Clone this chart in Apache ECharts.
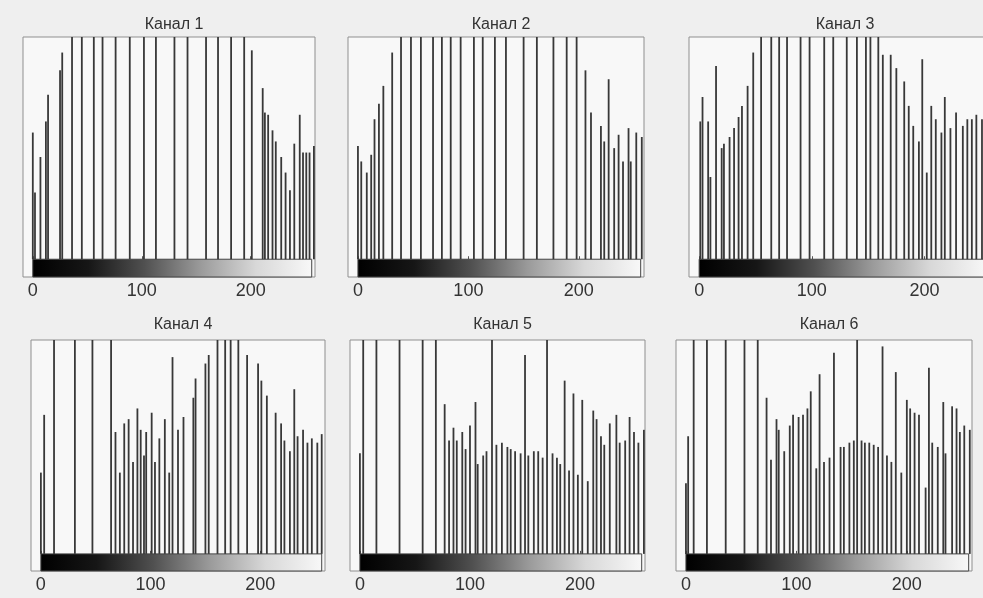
<!DOCTYPE html>
<html>
<head>
<meta charset="utf-8">
<script src="https://cdn.jsdelivr.net/npm/echarts@6/dist/echarts.min.js"></script>
<style>
  html, body { margin: 0; padding: 0; background: #efefef; }
  #chart { width: 983px; height: 598px; }
</style>
</head>
<body>
<div id="chart"></div>
<script>
// Histogram titles and axis tick labels
const channelTitles = ['Канал 1', 'Канал 2', 'Канал 3', 'Канал 4', 'Канал 5', 'Канал 6'];
const tickLabels = [0, 100, 200];
// Grey scale shown by the colour bar under each histogram
const grayRange = [0, 256];

// Occupied brightness levels and their relative counts (100 = top of plot)
const levels1 = [0, 2, 7, 12, 14, 25, 27, 36, 45, 56, 64, 76, 89, 102, 113, 130, 142, 159, 170, 182, 194, 201, 211, 213, 216, 220, 223, 228, 232, 236, 240, 245, 248, 251, 254, 258];
const counts1 = [57, 30, 46, 62, 74, 85, 93, 100, 100, 100, 100, 100, 100, 100, 100, 100, 100, 100, 100, 100, 100, 94, 77, 66, 65, 58, 53, 46, 39, 31, 52, 65, 48, 48, 48, 51];

const levels2 = [0, 3, 8, 12, 15, 19, 23, 31, 39, 48, 57, 68, 76, 84, 93, 105, 113, 124, 134, 150, 162, 177, 189, 198, 206, 211, 220, 223, 227, 232, 236, 240, 245, 247, 252, 257];
const counts2 = [51, 44, 39, 47, 63, 70, 78, 93, 100, 100, 100, 100, 100, 100, 100, 100, 100, 100, 100, 100, 100, 100, 100, 100, 85, 66, 60, 53, 81, 50, 56, 44, 59, 44, 57, 55];

const levels3 = [1, 3, 8, 10, 15, 20, 22, 27, 31, 35, 38, 43, 48, 55, 64, 71, 78, 90, 98, 111, 119, 131, 140, 148, 152, 159, 163, 170, 175, 182, 186, 190, 195, 198, 202, 206, 210, 215, 218, 223, 228, 234, 238, 242, 246, 251];
const counts3 = [62, 73, 62, 37, 87, 50, 52, 55, 59, 64, 69, 78, 93, 100, 100, 100, 100, 100, 100, 100, 100, 100, 100, 100, 100, 100, 92, 92, 86, 80, 69, 60, 53, 90, 39, 69, 63, 57, 73, 59, 66, 60, 63, 63, 65, 63];

const levels4 = [0, 3, 12, 31, 47, 64, 68, 72, 76, 80, 84, 88, 91, 94, 96, 101, 104, 108, 113, 117, 120, 125, 130, 139, 141, 150, 153, 161, 168, 173, 180, 188, 198, 201, 206, 214, 219, 222, 227, 231, 234, 239, 243, 247, 252, 256];
const counts4 = [38, 65, 100, 100, 100, 100, 57, 38, 61, 63, 43, 68, 58, 46, 57, 66, 43, 54, 63, 38, 92, 58, 64, 73, 82, 89, 93, 100, 100, 100, 100, 93, 89, 81, 74, 66, 61, 53, 48, 77, 55, 58, 52, 54, 52, 56];

const levels5 = [0, 3, 15, 36, 57, 69, 77, 81, 85, 88, 93, 96, 100, 105, 107, 112, 115, 120, 124, 129, 134, 137, 141, 146, 150, 153, 158, 162, 166, 170, 175, 179, 182, 186, 190, 194, 198, 202, 207, 212, 215, 219, 222, 227, 233, 236, 241, 245, 249, 253, 258];
const counts5 = [47, 100, 100, 100, 100, 100, 70, 53, 59, 53, 57, 49, 60, 71, 42, 46, 48, 100, 51, 52, 50, 49, 48, 47, 93, 46, 48, 48, 45, 100, 47, 45, 42, 81, 39, 75, 37, 72, 34, 67, 63, 55, 51, 61, 65, 52, 53, 64, 57, 52, 58];

const levels6 = [0, 2, 7, 19, 36, 53, 65, 73, 77, 82, 84, 89, 94, 97, 102, 106, 110, 113, 118, 121, 125, 130, 134, 140, 143, 148, 152, 155, 159, 162, 166, 170, 174, 178, 182, 186, 190, 195, 200, 203, 207, 211, 217, 220, 223, 228, 233, 235, 241, 245, 248, 252, 257];
const counts6 = [33, 55, 100, 100, 100, 100, 100, 73, 44, 63, 58, 48, 60, 65, 64, 65, 68, 76, 40, 84, 43, 45, 94, 50, 50, 52, 53, 100, 53, 52, 52, 51, 50, 97, 46, 43, 85, 38, 72, 68, 66, 65, 31, 87, 52, 50, 71, 47, 69, 68, 57, 60, 58];

const channelLevels = [levels1, levels2, levels3, levels4, levels5, levels6];
const channelCounts = [counts1, counts2, counts3, counts4, counts5, counts6];

// Frame of each panel in pixels (histogram + colour bar)
const frames = [
  { left: 23,  top: 37,  width: 292, height: 240 },
  { left: 348, top: 37,  width: 296, height: 240 },
  { left: 689, top: 37,  width: 302, height: 240 },
  { left: 31,  top: 340, width: 294, height: 231 },
  { left: 350, top: 340, width: 295, height: 231 },
  { left: 676, top: 340, width: 296, height: 231 }
];
const X_MIN = -9, X_MAX = 259;   // horizontal axis range
const Y_MIN = -8, Y_MAX = 100;   // below zero is the colour bar strip

const FONT = '"Liberation Sans", Arial, sans-serif';

const grids = [], xAxes = [], yAxes = [], series = [], titles = [];

frames.forEach((f, i) => {
  grids.push({
    left: f.left, top: f.top, width: f.width, height: f.height,
    show: true, backgroundColor: '#f8f8f8', borderColor: '#8f8f8f', borderWidth: 1,
    containLabel: false, outerBoundsMode: 'none'
  });
  xAxes.push({
    type: 'value', gridIndex: i, min: X_MIN, max: X_MAX,
    axisLine: { show: false },
    splitLine: { show: false },
    axisTick: { show: true, inside: true, length: 3, customValues: tickLabels, lineStyle: { color: '#555' } },
    axisLabel: { show: true, customValues: tickLabels, margin: 5, fontSize: 18, color: '#333', fontFamily: FONT }
  });
  yAxes.push({
    type: 'value', gridIndex: i, min: Y_MIN, max: Y_MAX,
    axisLine: { show: false }, axisTick: { show: false },
    axisLabel: { show: false }, splitLine: { show: false }
  });
  // grey colour bar from black to white
  series.push({
    type: 'custom', xAxisIndex: i, yAxisIndex: i, silent: true,
    data: [grayRange],
    encode: { x: [0, 1] },
    renderItem: function (params, api) {
      const a = api.coord([api.value(0), 0]);
      const b = api.coord([api.value(1), Y_MIN]);
      return {
        type: 'rect',
        shape: { x: a[0], y: a[1], width: b[0] - a[0], height: b[1] - a[1] },
        style: {
          fill: new echarts.graphic.LinearGradient(0, 0, 1, 0, [
            { offset: 0, color: '#000000' },
            { offset: 0.2, color: '#161616' },
            { offset: 0.4, color: '#505050' },
            { offset: 0.6, color: '#9a9a9a' },
            { offset: 0.8, color: '#d8d8d8' },
            { offset: 1, color: '#f8f8f8' }
          ]),
          stroke: '#444', lineWidth: 1
        }
      };
    }
  });
  // histogram stems
  series.push({
    type: 'bar', xAxisIndex: i, yAxisIndex: i, silent: true,
    barWidth: 1.8,
    itemStyle: { color: '#383838' },
    data: channelLevels[i].map((lv, k) => [lv, channelCounts[i][k]])
  });
  titles.push({
    text: channelTitles[i],
    left: f.left + f.width / 2,
    top: i < 3 ? 12 : 312,
    textAlign: 'center',
    textStyle: { fontSize: 16, fontWeight: 'normal', color: '#333', fontFamily: FONT }
  });
});

const chart = echarts.init(document.getElementById('chart'), null, { renderer: 'canvas' });
chart.setOption({
  backgroundColor: '#efefef',
  animation: false,
  title: titles,
  grid: grids,
  xAxis: xAxes,
  yAxis: yAxes,
  series: series
});
</script>
</body>
</html>
